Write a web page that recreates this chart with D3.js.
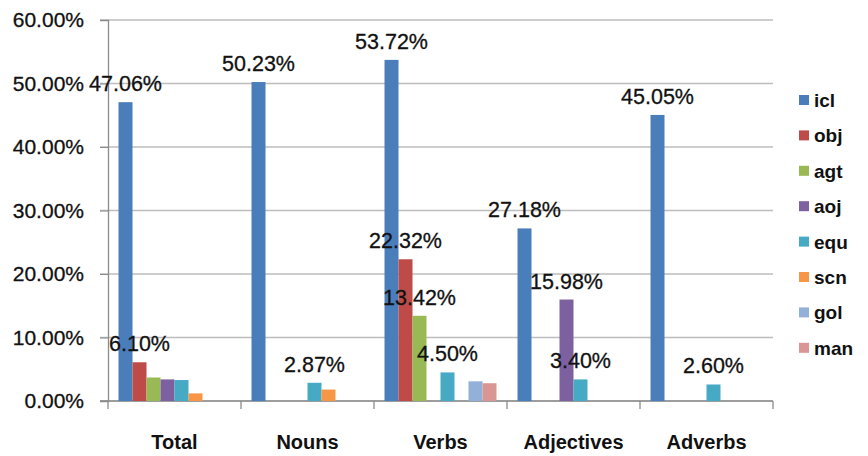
<!doctype html>
<html>
  <head>
    <meta charset="utf-8">
    <title>Relation share by word class</title>
    <script src="https://cdnjs.cloudflare.com/ajax/libs/d3/7.8.5/d3.min.js"></script>
    <style>
      body { margin: 0; background: #fff; }
      text { font-family: "Liberation Sans", Arial, sans-serif; fill: #111; }
    </style>
  </head>
  <body>
    <div id="chart"></div>
    <script>
      // data (percent)
      const categories = ['Total', 'Nouns', 'Verbs', 'Adjectives', 'Adverbs'];
      const series = ['icl', 'obj', 'agt', 'aoj', 'equ', 'scn', 'gol', 'man'];
      const colors = ['#4a7ebb', '#be4b48', '#98b954', '#7d60a0', '#46aac5', '#f79646', '#93b1d8', '#da9694'];
      const icl = [47.06, 50.23, 53.72, 27.18, 45.05];
      const obj = [6.10, 0, 22.32, 0, 0];
      const agt = [3.7, 0, 13.42, 0, 0];
      const aoj = [3.4, 0, 0, 15.98, 0];
      const equ = [3.3, 2.87, 4.50, 3.40, 2.60];
      const scn = [1.2, 1.8, 0, 0, 0];
      const gol = [0, 0, 3.1, 0, 0];
      const man = [0, 0, 2.8, 0, 0];
      const yTicks = [0, 10, 20, 30, 40, 50, 60];
      // bars that carry a value label: [category, series]
      const labelled = [
        ['Total', 'icl'], ['Total', 'obj'],
        ['Nouns', 'icl'], ['Nouns', 'equ'],
        ['Verbs', 'icl'], ['Verbs', 'obj'], ['Verbs', 'agt'], ['Verbs', 'equ'],
        ['Adjectives', 'icl'], ['Adjectives', 'aoj'], ['Adjectives', 'equ'],
        ['Adverbs', 'icl'], ['Adverbs', 'equ']
      ];

      const values = { icl, obj, agt, aoj, equ, scn, gol, man };
      const rows = [];
      categories.forEach((c, i) => {
        series.forEach(s => rows.push({ cat: c, ser: s, v: values[s][i] }));
      });

      const W = 868, H = 456;
      const plotL = 108, plotR = 773, plotT = 20, plotB = 401;

      const svg = d3.select('#chart').append('svg')
        .attr('width', W)
        .attr('height', H);

      const y = d3.scaleLinear().domain([0, 60]).range([plotB, plotT]);
      const x0 = d3.scaleBand().domain(categories).range([plotL, plotR])
        .paddingInner(0.158).paddingOuter(0.079);
      const x1 = d3.scaleBand().domain(series).range([0, x0.bandwidth()]);
      const color = d3.scaleOrdinal().domain(series).range(colors);

      // gridlines
      svg.append('g')
        .selectAll('line')
        .data(yTicks)
        .join('line')
        .attr('x1', plotL - 8)
        .attr('x2', plotR)
        .attr('y1', d => y(d))
        .attr('y2', d => y(d))
        .attr('stroke', '#bdbdbd')
        .attr('stroke-width', 1.3);

      // y axis
      const yAxis = svg.append('g')
        .attr('transform', `translate(${plotL},0)`)
        .call(d3.axisLeft(y).tickValues(yTicks).tickSize(8).tickPadding(16)
          .tickFormat(d => d.toFixed(2) + '%'));
      yAxis.select('.domain').attr('stroke', '#8c8c8c').attr('stroke-width', 1.3);
      yAxis.selectAll('.tick line').attr('stroke', '#8c8c8c');
      yAxis.selectAll('text')
        .attr('font-size', 21)
        .attr('fill', '#111')
        .attr('stroke', '#111')
        .attr('stroke-width', 0.3)
        .style('font-family', '"Liberation Sans", Arial, sans-serif');

      // x axis: baseline plus boundary ticks between categories
      const bounds = categories.map(c => x0(c) - x0.step() * x0.paddingInner() / 2)
        .concat([plotR]);
      svg.append('line')
        .attr('x1', plotL - 8).attr('x2', plotR)
        .attr('y1', plotB).attr('y2', plotB)
        .attr('stroke', '#8c8c8c').attr('stroke-width', 1.3);
      svg.append('g')
        .selectAll('line')
        .data(bounds)
        .join('line')
        .attr('x1', d => d).attr('x2', d => d)
        .attr('y1', plotB).attr('y2', plotB + 8)
        .attr('stroke', '#8c8c8c').attr('stroke-width', 1.3);

      svg.append('g')
        .selectAll('text')
        .data(categories)
        .join('text')
        .attr('x', d => x0(d) + x0.bandwidth() / 2)
        .attr('y', 449)
        .attr('text-anchor', 'middle')
        .attr('font-size', 20)
        .attr('font-weight', 'bold')
        .text(d => d);

      // bars
      svg.append('g')
        .selectAll('rect')
        .data(rows.filter(d => d.v > 0))
        .join('rect')
        .attr('x', d => x0(d.cat) + x1(d.ser))
        .attr('y', d => y(d.v))
        .attr('width', x1.bandwidth())
        .attr('height', d => y(0) - y(d.v))
        .attr('fill', d => color(d.ser));

      // value labels
      const labelRows = rows.filter(d => labelled.some(l => l[0] === d.cat && l[1] === d.ser));
      svg.append('g')
        .selectAll('text')
        .data(labelRows)
        .join('text')
        .attr('x', d => x0(d.cat) + x1(d.ser) + x1.bandwidth() / 2)
        .attr('y', d => y(d.v) - 11)
        .attr('text-anchor', 'middle')
        .attr('font-size', 21.5)
        .attr('stroke', '#111')
        .attr('stroke-width', 0.3)
        .text(d => d.v.toFixed(2) + '%');

      // legend
      const legend = svg.append('g')
        .selectAll('g')
        .data(series)
        .join('g')
        .attr('transform', (d, i) => `translate(799,${100 + i * 35.4})`);
      legend.append('rect')
        .attr('x', 0).attr('y', -5)
        .attr('width', 10).attr('height', 10)
        .attr('fill', d => color(d));
      legend.append('text')
        .attr('x', 15)
        .attr('y', 7)
        .attr('font-size', 19)
        .attr('font-weight', 'bold')
        .text(d => d);
    </script>
  </body>
</html>
